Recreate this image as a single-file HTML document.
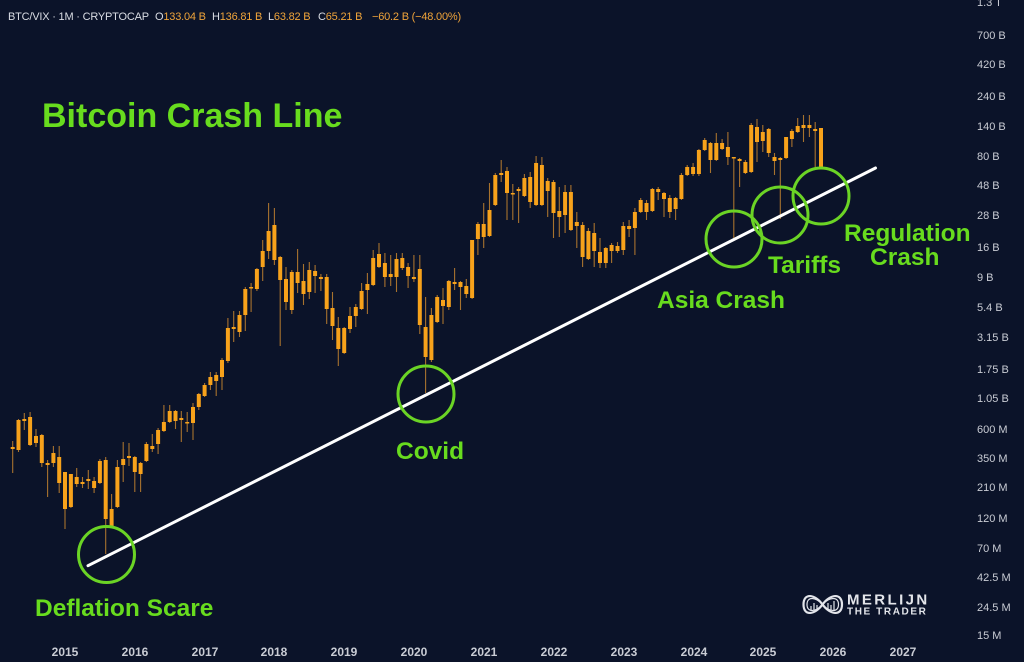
<!DOCTYPE html>
<html>
<head>
<meta charset="utf-8">
<style>
html,body{margin:0;padding:0;background:#0b1329;}
svg{display:block;}
text{font-family:"Liberation Sans",sans-serif;}
</style>
</head>
<body>
<svg width="1024" height="662" viewBox="0 0 1024 662" xmlns="http://www.w3.org/2000/svg">
<rect width="1024" height="662" fill="#0b1329"/>

<!-- header -->
<g font-size="11" letter-spacing="-0.2">
<text x="8" y="20" fill="#d9dce3">BTC/VIX · 1M · CRYPTOCAP</text>
<text x="155" y="20" fill="#d9dce3">O<tspan fill="#f0a43a">133.04 B</tspan></text>
<text x="212" y="20" fill="#d9dce3">H<tspan fill="#f0a43a">136.81 B</tspan></text>
<text x="268" y="20" fill="#d9dce3">L<tspan fill="#f0a43a">63.82 B</tspan></text>
<text x="318" y="20" fill="#d9dce3">C<tspan fill="#f0a43a">65.21 B</tspan></text>
<text x="372" y="20" fill="#f0a43a">−60.2 B (−48.00%)</text>
</g>

<!-- right axis -->
<g font-size="11" fill="#c9ccd4">
<text x="977" y="6">1.3 T</text>
<text x="977" y="39">700 B</text>
<text x="977" y="68">420 B</text>
<text x="977" y="100">240 B</text>
<text x="977" y="130">140 B</text>
<text x="977" y="160">80 B</text>
<text x="977" y="189">48 B</text>
<text x="977" y="219">28 B</text>
<text x="977" y="251">16 B</text>
<text x="977" y="281">9 B</text>
<text x="977" y="311">5.4 B</text>
<text x="977" y="341">3.15 B</text>
<text x="977" y="373">1.75 B</text>
<text x="977" y="402">1.05 B</text>
<text x="977" y="433">600 M</text>
<text x="977" y="462">350 M</text>
<text x="977" y="491">210 M</text>
<text x="977" y="522">120 M</text>
<text x="977" y="552">70 M</text>
<text x="977" y="581">42.5 M</text>
<text x="977" y="611">24.5 M</text>
<text x="977" y="639">15 M</text>
</g>

<!-- years -->
<g font-size="12" font-weight="bold" fill="#c9ccd4" text-anchor="middle">
<text x="65" y="656">2015</text>
<text x="135" y="656">2016</text>
<text x="205" y="656">2017</text>
<text x="274" y="656">2018</text>
<text x="344" y="656">2019</text>
<text x="414" y="656">2020</text>
<text x="484" y="656">2021</text>
<text x="554" y="656">2022</text>
<text x="624" y="656">2023</text>
<text x="694" y="656">2024</text>
<text x="763" y="656">2025</text>
<text x="833" y="656">2026</text>
<text x="903" y="656">2027</text>
</g>

<!-- wicks -->
<path fill="none" stroke="#a8722e" stroke-width="1.1" d="M12.7 441V473M18.5 419V452M24.3 413V430M30.1 412V446M36 429V447M41.8 434V467M47.6 460V497M53.4 446V467M59.2 446V493M65 472V529M70.9 474V508M76.7 468V487M82.5 477V488M88.3 470V489M94.1 477V493M99.9 459V484M105.7 457V554M111.6 494V527M117.4 460V508M123.2 442V482M129 443V466M134.8 456V492M140.6 462V492M146.4 442V462M152.3 434V452M158.1 428V454M163.9 405V432M169.7 405V423M175.5 410V429M181.3 411V442M187.2 412V432M193 403V440M198.8 393V410M204.6 383V397M210.4 372V390M216.2 372V396M222 358V390M227.9 318V363M233.7 311V342M239.5 311V337M245.3 287V331M251.1 283V312M256.9 268V291M262.7 240V281M268.6 203V259M274.4 208V265M280.2 256V346M286 267V310M291.8 270V314M297.6 249V293M303.5 264V305M309.3 262V299M315.1 265V293M320.9 274V291M326.7 274V324M332.5 292V340M338.3 317V366M344.2 327V354M350 307V333M355.8 304V327M361.6 283V310M367.4 273V314M373.2 250V286M379 243V268M384.9 253V287M390.7 255V286M396.5 253V292M402.3 253V270M408.1 263V288M413.9 255V282M419.8 255V334M425.6 297V393M431.4 308V362M437.2 295V323M443 288V324M448.8 280V310M454.6 268V290M460.5 281V310M466.3 279V298M472.1 240V299M477.9 222V255M483.7 203V248M489.5 183V237M495.3 173V206M501.2 160V182M507 167V220M512.8 184V220M518.6 187V223M524.4 174V197M530.2 172V208M536.1 156V206M541.9 157V206M547.7 178V217M553.5 180V238M559.3 187V237M565.1 185V233M570.9 185V231M576.8 212V248M582.6 222V267M588.4 228V260M594.2 223V267M600 238V268M605.8 247V268M611.6 243V263M617.5 242V253M623.3 222V255M629.1 220V237M634.9 208V255M640.7 198V213M646.5 200V220M652.4 188V212M658.2 187V200M664 192V217M669.8 195V218M675.6 197V220M681.4 173V200M687.2 165V176M693.1 163V176M698.9 149V176M704.7 138V151M710.5 142V173M716.3 133V161M722.1 139V150M727.9 132V165M733.8 157V238M739.6 158V187M745.4 160V174M751.2 123V173M757 119V162M762.8 125V152M768.7 128V157M774.5 153V175M780.3 157V219M786.1 137V159M791.9 129V147M797.7 118V133M803.5 115V142M809.4 115V137M815.2 122V167M821 128V168"/>

<!-- bodies -->
<path fill="#f7a21b" d="M10.7 447h4v2h-4zM16.5 420h4v30h-4zM22.3 419h4v2h-4zM28.1 417h4v28h-4zM34 436h4v7h-4zM39.8 435h4v28h-4zM45.6 463h4v2h-4zM51.4 453h4v10h-4zM57.2 457h4v26h-4zM63 472h4v37h-4zM68.9 474h4v33h-4zM74.7 477h4v7h-4zM80.5 482h4v2h-4zM86.3 479h4v2h-4zM92.1 481h4v7h-4zM97.9 461h4v22h-4zM103.7 460h4v59h-4zM109.6 509h4v17h-4zM115.4 467h4v40h-4zM121.2 459h4v6h-4zM127 456h4v2h-4zM132.8 457h4v15h-4zM138.6 463h4v11h-4zM144.4 444h4v17h-4zM150.3 446h4v3h-4zM156.1 430h4v14h-4zM161.9 422h4v9h-4zM167.7 411h4v11h-4zM173.5 411h4v10h-4zM179.3 418h4v2h-4zM185.2 422h4v1.5h-4zM191 407h4v16h-4zM196.8 394h4v13h-4zM202.6 385h4v11h-4zM208.4 377h4v8h-4zM214.2 375h4v6h-4zM220 360h4v17h-4zM225.9 328h4v33h-4zM231.7 327h4v2h-4zM237.5 315h4v17h-4zM243.3 289h4v26h-4zM249.1 287h4v1.5h-4zM254.9 269h4v20h-4zM260.7 251h4v16h-4zM266.6 231h4v20h-4zM272.4 225h4v35h-4zM278.2 257h4v23h-4zM284 279h4v23h-4zM289.8 272h4v38h-4zM295.6 272h4v11h-4zM301.5 281h4v13h-4zM307.3 270h4v22h-4zM313.1 271h4v5h-4zM318.9 277h4v2h-4zM324.7 277h4v32h-4zM330.5 308h4v18h-4zM336.3 328h4v21h-4zM342.2 328h4v25h-4zM348 316h4v13h-4zM353.8 307h4v9h-4zM359.6 291h4v18h-4zM365.4 284h4v6h-4zM371.2 258h4v27h-4zM377 254h4v13h-4zM382.9 263h4v14h-4zM388.7 274h4v3h-4zM394.5 259h4v18h-4zM400.3 258h4v10h-4zM406.1 267h4v9h-4zM411.9 277h4v2h-4zM417.8 269h4v56h-4zM423.6 327h4v30h-4zM429.4 315h4v45h-4zM435.2 297h4v25h-4zM441 300h4v6h-4zM446.8 281h4v26h-4zM452.6 282h4v2h-4zM458.5 282h4v5h-4zM464.3 286h4v8h-4zM470.1 240h4v58h-4zM475.9 224h4v15h-4zM481.7 224h4v13h-4zM487.5 210h4v26h-4zM493.3 175h4v30h-4zM499.2 173h4v2h-4zM505 171h4v22h-4zM510.8 193h4v1.5h-4zM516.6 189h4v2h-4zM522.4 178h4v18h-4zM528.2 177h4v25h-4zM534.1 163h4v42h-4zM539.9 165h4v40h-4zM545.7 181h4v10h-4zM551.5 182h4v31h-4zM557.3 211h4v6h-4zM563.1 192h4v23h-4zM568.9 192h4v38h-4zM574.8 222h4v4h-4zM580.6 225h4v32h-4zM586.4 231h4v28h-4zM592.2 233h4v18h-4zM598 252h4v11h-4zM603.8 248h4v15h-4zM609.6 245h4v6h-4zM615.5 246h4v5h-4zM621.3 226h4v24h-4zM627.1 226h4v3h-4zM632.9 212h4v16h-4zM638.7 200h4v12h-4zM644.5 203h4v9h-4zM650.4 189h4v22h-4zM656.2 189h4v3h-4zM662 193h4v6h-4zM667.8 198h4v14h-4zM673.6 198h4v11h-4zM679.4 175h4v24h-4zM685.2 167h4v8h-4zM691.1 167h4v7h-4zM696.9 150h4v24h-4zM702.7 140h4v10h-4zM708.5 143h4v17h-4zM714.3 143h4v17h-4zM720.1 143h4v6h-4zM725.9 147h4v10h-4zM731.8 157h4v1.5h-4zM737.6 159h4v2h-4zM743.4 162h4v11h-4zM749.2 125h4v47h-4zM755 127h4v15h-4zM760.8 132h4v9h-4zM766.7 129h4v24h-4zM772.5 157h4v4h-4zM778.3 158h4v2h-4zM784.1 137h4v21h-4zM789.9 131h4v8h-4zM795.7 126h4v6h-4zM801.5 125h4v3h-4zM807.4 125h4v3h-4zM813.2 129h4v2h-4zM819 128h4v40h-4z"/>

<!-- trend line -->
<line x1="88" y1="565.7" x2="875.5" y2="168" stroke="#ffffff" stroke-width="3" stroke-linecap="round"/>

<!-- circles -->
<g fill="none" stroke="#6bd425" stroke-width="3">
<circle cx="106.5" cy="554.5" r="28"/>
<circle cx="426" cy="394" r="28"/>
<circle cx="734" cy="239" r="28"/>
<circle cx="780" cy="215" r="28"/>
<circle cx="821" cy="196" r="28"/>
</g>

<!-- labels -->
<g font-weight="bold" fill="#68dc1e">
<text x="42" y="127" font-size="34">Bitcoin Crash Line</text>
<text x="396" y="459" font-size="24.5">Covid</text>
<text x="35" y="616" font-size="24.5">Deflation Scare</text>
<text x="657" y="308" font-size="24.5">Asia Crash</text>
<text x="768" y="273" font-size="24.5">Tariffs</text>
<text x="844" y="241" font-size="24.5">Regulation</text>
<text x="870" y="265" font-size="24.5">Crash</text>
</g>

<!-- logo -->
<g fill="none" stroke="#e3e5ea" stroke-width="2.2">
<path d="M822.5 604.5C815 594 803.5 592.5 803.5 604.5C803.5 616.5 815 615 822.5 604.5C830 594 842 592.5 842 604.5C842 616.5 830 615 822.5 604.5Z"/>
<path d="M822.5 604.5C816 597 807 596 807 604.5C807 613 816 612 822.5 604.5C829 597 838.5 596 838.5 604.5C838.5 613 829 612 822.5 604.5Z" stroke-width="1.2"/>
</g>
<g stroke="#e3e5ea" stroke-width="1.2">
<path d="M811 610V606M814 610V603M817 609V605M828 609V603M831 610V605M834 610V601"/>
</g>
<g font-weight="bold" fill="#e3e5ea">
<text x="847" y="604.5" font-size="15" letter-spacing="2.4">MERLIJN</text>
<text x="847" y="614.5" font-size="10" letter-spacing="1.6">THE TRADER</text>
</g>
</svg>
</body>
</html>
